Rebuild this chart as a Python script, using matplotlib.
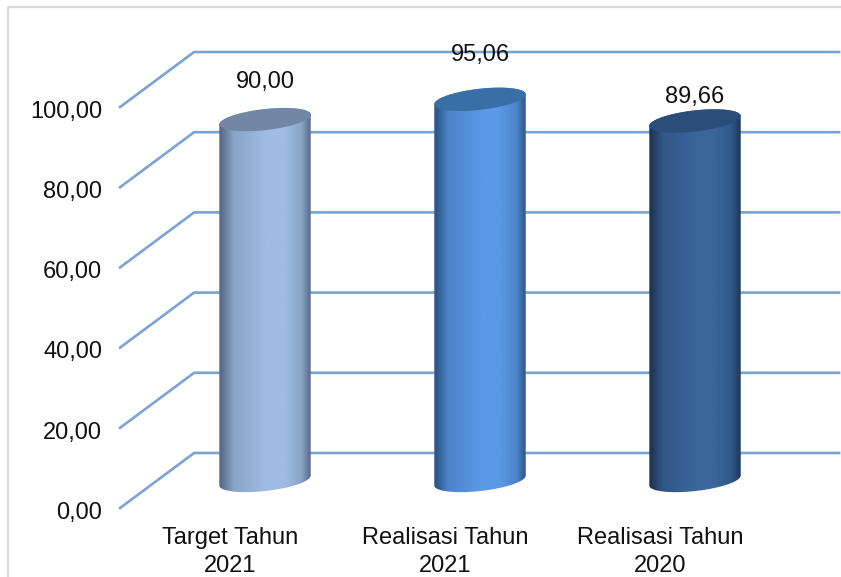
import numpy as np
import matplotlib
matplotlib.use("Agg")
import matplotlib.pyplot as plt
from matplotlib.colors import LinearSegmentedColormap, to_rgb
from matplotlib.lines import Line2D
from matplotlib.patches import Polygon

plt.rcParams["font.family"] = ["Liberation Sans", "DejaVu Sans"]

categories = ["Target Tahun\n2021", "Realisasi Tahun\n2021", "Realisasi Tahun\n2020"]
values = [90.00, 95.06, 89.66]
value_labels = ["90,00", "95,06", "89,66"]
grid_values = [0, 20, 40, 60, 80, 100]
tick_labels = ["0,00", "20,00", "40,00", "60,00", "80,00", "100,00"]

# edge, centre, lid
BAR_COLORS = [("#566b85", "#9fbce2", "#7187a5"),
              ("#2c5687", "#5b98e6", "#3a6ea6"),
              ("#1c3656", "#3a669c", "#2a4d79")]
LABEL_GAP = [9.3, 11.0, 6.0]
GRID = "#7ba3d2"
TXT = "#111111"
W, H = 841, 577

# one category = 215 px, one value unit = 4.01 px
PX_X, PX_Y = 215.0, 4.01
x0, y0 = 265.0, 480.5
DEPTH_X, DEPTH_Y = 37 / PX_X, 27.5 / PX_Y
HALF_W = 45 / PX_X

fig = plt.figure(figsize=(W / 100, H / 100), dpi=100, facecolor="white")
ax = fig.add_axes([0, 0, 1, 1])
xlim = (-x0 / PX_X, (W - x0) / PX_X)
ylim = ((y0 - H) / PX_Y, y0 / PX_Y)
ax.axis("off")

# cadre gris
fig.add_artist(Line2D([8 / W, 8 / W, 1], [0, 1 - 7 / H, 1 - 7 / H],
                      color="#d9d9d9", lw=1.6, transform=fig.transFigure))

# grille 3D : mur du fond + cote gauche
for v, lab in zip(grid_values, tick_labels):
    ax.plot([-0.674, -0.674 + 2 * DEPTH_X, 2.67],
            [v - DEPTH_Y, v + DEPTH_Y, v + DEPTH_Y],
            color=GRID, lw=1.9, solid_joinstyle="miter", zorder=1)
    ax.text(-0.758, v - DEPTH_Y - 1.2, lab, ha="right", va="center",
            fontsize=17, color=TXT)


def ellipse(cx, v, t):
    # ellipse penchee, en pixels puis ramenee en unites de donnees
    a, b, tilt = 46.0, 10.5, np.radians(6.5)
    ex = a * np.cos(t) * np.cos(tilt) - b * np.sin(t) * np.sin(tilt)
    ey = a * np.cos(t) * np.sin(tilt) + b * np.sin(t) * np.cos(tilt)
    return cx + ex / PX_X, v + ey / PX_Y


for i, (val, (edge, mid, lid)) in enumerate(zip(values, BAR_COLORS)):
    t_low = np.linspace(np.pi, 2 * np.pi, 60)
    t_up = np.linspace(0, np.pi, 60)
    bx, by = ellipse(i, 0, t_low)
    tx, ty = ellipse(i, val, t_up)
    body = Polygon(np.column_stack([np.r_[bx, tx], np.r_[by, ty]]), closed=True,
                   fc="none", ec="none", zorder=2)
    ax.add_patch(body)
    near = tuple(0.3 * a + 0.7 * b for a, b in zip(to_rgb(edge), to_rgb(mid)))
    cmap = LinearSegmentedColormap.from_list(
        "cyl", [(0, edge), (0.03, edge), (0.16, near), (0.5, mid), (0.7, mid),
                (0.88, near), (0.98, edge), (1, edge)])
    im = ax.imshow(np.linspace(0, 1, 256)[None, :], cmap=cmap, aspect="auto", zorder=2,
                   extent=(i - HALF_W - 0.01, i + HALF_W + 0.01, -5, val + 5))
    im.set_clip_path(body)
    lx, ly = ellipse(i, val, np.linspace(0, 2 * np.pi, 120))
    ax.fill(lx, ly, color=lid, lw=0, zorder=3)
    ax.text(i, val + LABEL_GAP[i], value_labels[i], ha="center", va="center",
            fontsize=17, color=TXT, zorder=4)
    ax.text(i - 35 / PX_X, -17.8, categories[i], ha="center", va="center",
            fontsize=17, color=TXT, linespacing=1.33, zorder=4)

ax.set_xlim(xlim)
ax.set_ylim(ylim)
fig.savefig("out.png", dpi=100, facecolor="white")
